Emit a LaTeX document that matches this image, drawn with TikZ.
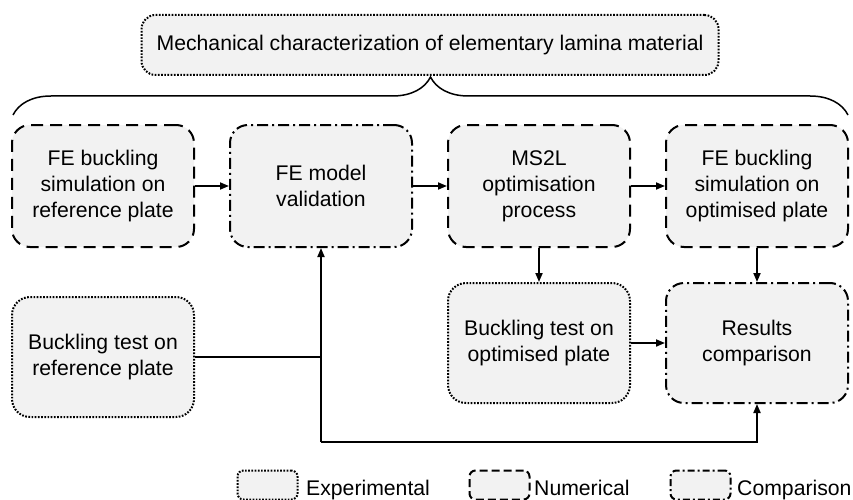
\documentclass[tikz,border=0pt]{standalone}
\usepackage{fontspec}
\setmainfont{Liberation Sans}
\usetikzlibrary{arrows.meta,decorations.pathreplacing}
\definecolor{boxgray}{RGB}{242,242,242}

\begin{document}
\begin{tikzpicture}[x=1pt, y=-1pt,
    box/.style={draw, rounded corners=18pt, fill=boxgray, line width=2pt, align=center, inner sep=0pt,
                minimum width=182pt, minimum height=122pt, font=\fontsize{21.2}{25.8}\selectfont},
    expbox/.style={box, dash pattern=on 1.7pt off 1.5pt},
    numbox/.style={box, dash pattern=on 12pt off 7pt},
    cmpbox/.style={box, dash pattern=on 11pt off 4pt on 2pt off 4pt},
    legbox/.style={minimum width=60pt, minimum height=29pt, rounded corners=6pt},
    legtext/.style={anchor=base west, inner sep=0pt, font=\fontsize{21.2}{25.8}\selectfont},
    arr/.style={line width=1.8pt, -{Triangle[length=9pt,width=7pt]}}]
                    \useasboundingbox (0,0) rectangle (853,500);

                    % Lamina characterization
                    \node[expbox, minimum width=577pt, minimum height=60pt, rounded corners=14pt] (lamina) at (430,45) {Mechanical characterization of elementary lamina material};
                    \coordinate (bl) at (13,115);
                    \coordinate (br) at (848,115);
                    \draw[line width=1.5pt, decorate, decoration={brace, amplitude=38pt}] (bl) -- (br);

                    % Row 1
                    \node[numbox] (simref) at (103,186) {FE buckling\\simulation on\\reference plate};
                    \node[cmpbox] (valid) at (321,186) {FE model\\validation};
                    \node[numbox] (optim) at (539,186) {MS2L\\optimisation\\process};
                    \node[numbox] (simopt) at (757,186) {FE buckling\\simulation on\\optimised plate};

                    % Row 2
                    \node[expbox, minimum height=120pt] (testref) at (103,357) {Buckling test on\\reference plate};
                    \node[expbox, minimum height=120pt] (testopt) at (539,343) {Buckling test on\\optimised plate};
                    \node[cmpbox, minimum height=120pt] (results) at (757,343) {Results\\comparison};

                    % Flow
                    \draw[arr] (simref) -- (valid);
                    \draw[arr] (valid) -- (optim);
                    \draw[arr] (optim) -- (simopt);
                    \draw[arr] (optim) -- (testopt);
                    \draw[arr] (simopt) -- (results);
                    \draw[arr] (testopt) -- (results);

                    % Test feedback
                    \coordinate (join) at (321,357);
                    \coordinate (low) at (321,442);
                    \draw[line width=1.8pt] (testref.east) -- (join);
                    \draw[arr] (low) -- (valid.south);
                    \draw[arr] (low) -| (results.south);

                    % Legend
                    \node[expbox, legbox] (lexp) at (267.5,485) {};
                    \node[legtext] (lexpt) at (306,495) {Experimental};
                    \node[numbox, legbox, dash pattern=on 8pt off 4pt] (lnum) at (499.5,485) {};
                    \node[legtext] (lnumt) at (534,495) {Numerical};
                    \node[cmpbox, legbox, dash pattern=on 7pt off 3pt on 2pt off 3pt] (lcmp) at (700.5,485) {};
                    \node[legtext] (lcmpt) at (737,495) {Comparison};
                \end{tikzpicture}
\end{document}
